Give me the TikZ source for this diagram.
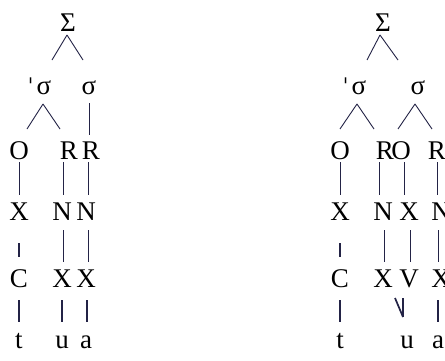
\documentclass[tikz,border=0pt]{standalone}
\usepackage{fontspec}
\setmainfont{Liberation Serif}
\newfontfamily\tickfont{DejaVu Sans}
\begin{document}
\begin{tikzpicture}[x=1pt,y=1pt,
  sym/.style={inner sep=0pt, anchor=base, font=\fontsize{27}{27}\selectfont, text=black},
  thin/.style={draw=lc, line width=0.9pt},
  thick/.style={draw=lc, line width=1.7pt}]
\definecolor{lc}{RGB}{35,35,70}
\newcommand{\strs}{\llap{{\tickfont\fontsize{22}{22}\selectfont ˈ}\hspace{3pt}}}
\useasboundingbox (0,0) rectangle (445,360);
% ---------- left tree ----------
\node[sym] (LS) at (68,329) {Σ};
\node[sym] (Ls1) at (44,266) {\strs σ};
\node[sym] (Ls2) at (89,266) {σ};
\node[sym] (LO) at (19,201) {O};
\node[sym] (LR1) at (69,201) {R};
\node[sym] (LR2) at (91,201) {R};
\node[sym] (LX) at (19,140) {X};
\node[sym] (LN1) at (62,140) {N};
\node[sym] (LN2) at (86,140) {N};
\node[sym] (LC) at (19,73) {C};
\node[sym] (LX1) at (62,73) {X};
\node[sym] (LX2) at (86,73) {X};
\node[sym] (Lt) at (19,12) {t};
\node[sym] (Lu) at (62,12) {u};
\node[sym] (La) at (86,12) {a};
\draw[thin] ([shift={(-1,-4)}]LS.base) -- ([shift={(8,34)}]Ls1.base);
\draw[thin] ([shift={(-1,-4)}]LS.base) -- ([shift={(-6,34)}]Ls2.base);
\draw[thin] ([shift={(-1,-10)}]Ls1.base) -- ([shift={(8,30)}]LO.base);
\draw[thin] ([shift={(-1,-10)}]Ls1.base) -- ([shift={(-9,30)}]LR1.base);
\draw[thin] ([shift={(0,-9)}]Ls2.base) -- ([shift={(-2,24)}]LR2.base);
\draw[thin] ([shift={(0,-3)}]LO.base) -- ([shift={(0,25)}]LX.base);
\draw[thin] ([shift={(-6,-3)}]LR1.base) -- ([shift={(1,25)}]LN1.base);
\draw[thin] ([shift={(-3,-3)}]LR2.base) -- ([shift={(2,25)}]LN2.base);
\draw[thick] ([shift={(0,-23)}]LX.base) -- ([shift={(0,30)}]LC.base);
\draw[thin] ([shift={(1,-10)}]LN1.base) -- ([shift={(1,25)}]LX1.base);
\draw[thin] ([shift={(2,-10)}]LN2.base) -- ([shift={(2,25)}]LX2.base);
\draw[thick] ([shift={(0,-13)}]LC.base) -- ([shift={(0,26)}]Lt.base);
\draw[thick] ([shift={(0,-13)}]LX1.base) -- ([shift={(0,26)}]Lu.base);
\draw[thick] ([shift={(1,-13)}]LX2.base) -- ([shift={(1,26)}]La.base);
% ---------- right tree ----------
\node[sym] (RS) at (383,329) {Σ};
\node[sym] (Rs1) at (359,266) {\strs σ};
\node[sym] (Rs2) at (418,266) {σ};
\node[sym] (RO1) at (340,201) {O};
\node[sym] (RR1) at (385,201) {R};
\node[sym] (RO2) at (401,201) {O};
\node[sym] (RR2) at (437,201) {R};
\node[sym] (RX1) at (340,140) {X};
\node[sym] (RN1) at (383,140) {N};
\node[sym] (RX2) at (409,140) {X};
\node[sym] (RN2) at (441,140) {N};
\node[sym] (RC) at (340,73) {C};
\node[sym] (RX3) at (383,73) {X};
\node[sym] (RV) at (409,73) {V};
\node[sym] (RX4) at (441,73) {X};
\node[sym] (Rt) at (340,12) {t};
\node[sym] (Ru) at (407,12) {u};
\node[sym] (Ra) at (438,12) {a};
\draw[thin] ([shift={(-3,-4)}]RS.base) -- ([shift={(8,34)}]Rs1.base);
\draw[thin] ([shift={(-3,-4)}]RS.base) -- ([shift={(-20,34)}]Rs2.base);
\draw[thin] ([shift={(-2,-10)}]Rs1.base) -- ([shift={(0,30)}]RO1.base);
\draw[thin] ([shift={(-2,-10)}]Rs1.base) -- ([shift={(-11,30)}]RR1.base);
\draw[thin] ([shift={(-3,-10)}]Rs2.base) -- ([shift={(-3,30)}]RO2.base);
\draw[thin] ([shift={(-3,-10)}]Rs2.base) -- ([shift={(-5,30)}]RR2.base);
\draw[thin] ([shift={(0,-3)}]RO1.base) -- ([shift={(0,25)}]RX1.base);
\draw[thin] ([shift={(-6,-3)}]RR1.base) -- ([shift={(-4,25)}]RN1.base);
\draw[thin] ([shift={(3,-3)}]RO2.base) -- ([shift={(-5,25)}]RX2.base);
\draw[thin] ([shift={(0,-3)}]RR2.base) -- ([shift={(-4,25)}]RN2.base);
\draw[thick] ([shift={(0,-23)}]RX1.base) -- ([shift={(0,30)}]RC.base);
\draw[thin] ([shift={(1,-10)}]RN1.base) -- ([shift={(1,25)}]RX3.base);
\draw[thin] ([shift={(1,-10)}]RX2.base) -- ([shift={(1,25)}]RV.base);
\draw[thin] ([shift={(-3,-10)}]RN2.base) -- ([shift={(-3,25)}]RX4.base);
\draw[thick] ([shift={(0,-13)}]RC.base) -- ([shift={(0,26)}]Rt.base);
\draw[thick] ([shift={(-14,-11)}]RV.base) -- ([shift={(-4,31)}]Ru.base);
\draw[thick] ([shift={(-6,-11)}]RV.base) -- ([shift={(-4,31)}]Ru.base);
\draw[thick] ([shift={(-3,-13)}]RX4.base) -- ([shift={(0,26)}]Ra.base);
\end{tikzpicture}
\end{document}
